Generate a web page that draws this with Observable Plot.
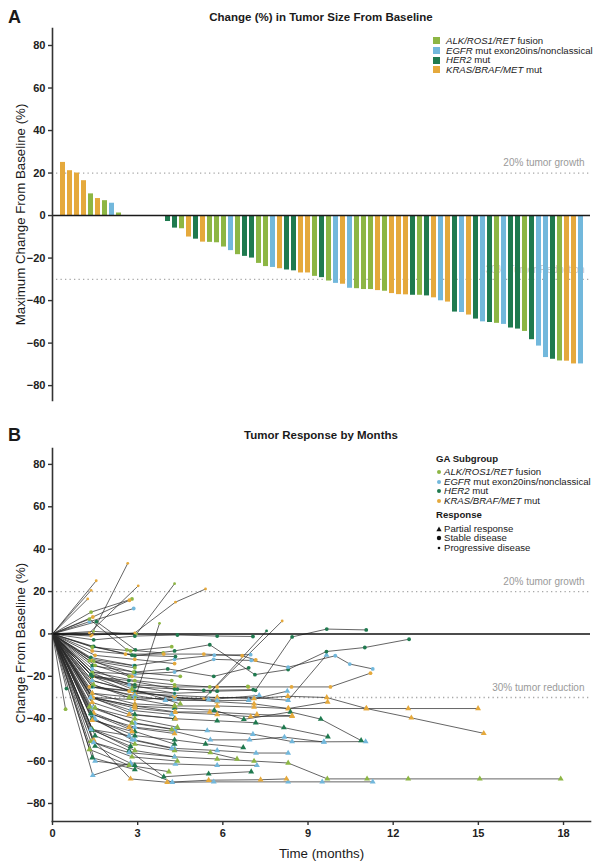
<!DOCTYPE html>
<html><head><meta charset="utf-8">
<script src="https://cdn.jsdelivr.net/npm/d3@7"></script>
<script src="https://cdn.jsdelivr.net/npm/@observablehq/plot@0.6"></script>
<style>
body{margin:0;background:#fff;font-family:"Liberation Sans",Arial,sans-serif;}
#wrap{position:relative;width:600px;height:867px;overflow:hidden;background:#fff}
.abs{position:absolute;white-space:nowrap;color:#1a1a1a;line-height:12px}
.plot{position:absolute;left:0}
</style></head><body><div id="wrap"></div>
<script>
// ---------- data ----------
const groupKeys = ["ALK", "EGFR", "HER2", "KRAS"];
const groupColors = ["#8db644", "#72b8dc", "#1f7a4f", "#e5a93c"];
const groupLabelItalic = ["ALK/ROS1/RET", "EGFR", "HER2", "KRAS/BRAF/MET"];
const groupLabelRest = [" fusion", " mut exon20ins/nonclassical", " mut", " mut"];
const responseLabels = ["Partial response", "Stable disease", "Progressive disease"];

const barGroups = ["KRAS","KRAS","KRAS","KRAS","ALK","KRAS","ALK","EGFR","ALK","HER2",
  "KRAS","ALK","EGFR","KRAS","KRAS","HER2","HER2","ALK","KRAS","HER2",
  "KRAS","ALK","ALK","ALK","EGFR","ALK","HER2","HER2","ALK","ALK",
  "EGFR","KRAS","HER2","HER2","KRAS","KRAS","ALK","HER2","ALK","EGFR",
  "KRAS","EGFR","ALK","ALK","ALK","KRAS","ALK","KRAS","KRAS","KRAS",
  "HER2","ALK","HER2","KRAS","EGFR","KRAS","HER2","EGFR","KRAS","HER2",
  "EGFR","HER2","ALK","EGFR","HER2","HER2","ALK","HER2","EGFR","EGFR",
  "HER2","ALK","KRAS","KRAS","EGFR"];
const barValues = [25.0, 21.1, 20.0, 16.4, 10.2, 8.0, 7.0, 5.8, 1.2, 0,
  0, 0, 0, 0, -0.4, -2.8, -5.9, -6.2, -10.1, -11.1,
  -12.5, -12.6, -12.8, -14.8, -16.5, -18.4, -19.2, -20.0, -22.5, -24.0,
  -24.4, -25.0, -25.6, -26.0, -27.0, -27.0, -28.6, -29.2, -30.8, -31.9,
  -32.3, -34.2, -34.4, -34.8, -34.8, -35.3, -35.6, -36.7, -37.2, -37.3,
  -37.5, -37.5, -37.8, -38.7, -40.1, -40.7, -45.4, -45.6, -46.8, -48.7,
  -50.0, -50.3, -50.7, -51.2, -52.9, -53.4, -54.5, -58.4, -61.4, -66.8,
  -67.6, -68.4, -68.5, -69.8, -69.8];

const yTicks = [-80, -60, -40, -20, 0, 20, 40, 60, 80];
const xTicks = [0, 3, 6, 9, 12, 15, 18];
const refValues = [20, -30];

// Panel B: one entry per patient
const trajGroup = ["KRAS","KRAS","KRAS","KRAS","KRAS","ALK","KRAS","ALK","KRAS","EGFR",
  "HER2","ALK","ALK","KRAS","HER2","HER2","HER2","HER2","EGFR","EGFR",
  "KRAS","KRAS","KRAS","KRAS","HER2","EGFR","HER2","EGFR","ALK","EGFR",
  "KRAS","EGFR","HER2","EGFR","KRAS","KRAS","EGFR","HER2","ALK","HER2",
  "EGFR","EGFR","KRAS","HER2","ALK","HER2","ALK","KRAS","HER2","KRAS",
  "ALK","ALK","ALK","EGFR","ALK","HER2","ALK","EGFR","KRAS","ALK",
  "ALK","KRAS","HER2","EGFR","HER2","ALK","HER2","EGFR","HER2","ALK",
  "KRAS","ALK","HER2","KRAS","EGFR"];
const trajResponse = ["PD","PD","PD","PD","PD","PD","PD","SD","SD","SD",
  "SD","SD","PD","PD","PD","SD","SD","SD","PR","SD",
  "SD","PR","PR","PR","PR","PR","PR","PR","PR","PR",
  "PR","PR","PR","PR","PR","SD","SD","SD","SD","SD",
  "PR","PR","PR","PR","PR","SD","SD","SD","SD","SD",
  "SD","SD","SD","SD","PR","SD","PR","PR","PR","PR",
  "PR","PR","PR","PR","PR","PR","PR","PR","PR","PR",
  "PR","SD","SD","SD","PR"];
const trajMonths = [
  [0,1.54],[0,1.36],[0,1.24],[0,1.35,2.65],[0,1.3,3.02],
  [0,1.45,2.96,4.3],[0,1.4,2.9,4.33,5.39],[0,1.36,2.8],[0,1.42,2.71],[0,1.3,2.86],
  [0,1.55,2.92],[0,1.3,2.62,3.9],[0,1.4,2.92,3.77],[0,1.45,2.9,4.3,5.33,8.09],[0,1.4,2.9,4.3,5.56,7.54],
  [0,1.45,2.9,4.4,5.8,7.06],[0,1.4,2.9,4.4,5.8,7.15,8.44,9.66,11.05],[0,1.4,2.9,4.3,5.54,7.13,8.3,9.65,11.0,12.56],
  [0,1.4,2.9,4.3,5.8,7.1,8.3,9.65],[0,1.4,2.9,4.3,5.68,7.0,8.3,9.96,10.47,11.28],
  [0,1.4,2.9,4.3,5.8,6.9,8.42,9.79,11.2],[0,1.4,2.8,4.3,5.8,7.1,8.3,11.05,12.53,14.99],
  [0,1.4,2.9,4.3,5.8,7.1,8.29,9.66,11.06,12.64,15.19],[0,1.4,2.9,4.3,5.8,7.1,8.31,9.69],
  [0,1.4,2.9,4.3,5.7,6.74,8.38,9.45,10.87],[0,1.4,2.9,4.3,5.45,7.06,8.44,9.56,11.03],
  [0,1.4,2.9,4.3,5.8,7.16,8.15,9.7],[0,1.4,2.9,4.3,5.8,7.17,8.3],
  [0,1.4,2.9,4.3,5.8,7.1,8.3,9.68,11.08,12.53,15.05,17.9],[0,1.5,2.75,4.22,5.68,8.3,9.5,11.28],
  [0,1.45,2.75,4.04,5.5,7.33,8.24],[0,1.42,2.75,4.33,5.8,7.2],[0,1.5,2.7,3.92,5.5,7.0],
  [0,1.4,2.9,4.3,5.56,6.94,8.17,9.56],[0,1.4,2.9,4.3,5.8,6.98,8.44],[0,1.4,2.57,3.92,5.33,6.68,7.16],
  [0,1.4,2.86,4.3,5.7,6.98],[0,1.4,2.9,4.06,5.68,6.91],[0,1.4,2.9,4.3,5.54,6.88],[0,1.4,2.69,4.3,5.33,7.07],
  [0,1.4,2.75,4.3,5.5,7.28],[0,1.4,2.9,3.98,5.8,6.91,8.27],[0,1.4,2.9,4.33,5.54,7.2,8.44],
  [0,1.4,2.9,4.3,5.39,6.72],[0,1.4,2.9,4.3,5.56,6.5],[0,1.45,2.8,4.33],[0,1.4,2.75,4.2],
  [0,1.5,2.9,4.3],[0,1.35,2.9],[0,1.4,2.8],[0,1.3,2.85,4.5],[0,1.45,2.9],[0,1.5,2.7,4.2],
  [0,1.4,2.7,4.3],[0,1.4,2.8,4.5],[0,1.35,2.9],[0,1.45,2.7,4.3],[0,1.35,2.75,4.2],
  [0,1.4,2.7,4.33],[0,1.3,2.9,4.4],[0,1.5,2.8,4.2],[0,1.45,2.7,4.3],[0,1.35,2.9,4.3],
  [0,1.5,2.8,4.2],[0,1.4,2.75],[0,1.35,2.8,4.4],[0,1.5,2.9],[0,1.45,2.7,4.3],[0,1.4,2.9],
  [0,1.3,2.7,4.1],[0,1.4,2.8],[0,0.46],[0,0.49],[0,1.3,2.7],[0,1.35,2.7]];
const trajChange = [
  [0,25.1],[0,20.6],[0,16.5],[0,-1,33.3],[0,0.5,22.7],
  [0,1.2,0,23.7],[0,-0.5,0.5,15,21.2],[0,10.3,16.5],[0,8,15.9],[0,5.8,12],
  [0,5.8,-7.5],[0,7,-7.5,-9],[0,-24,-29.8,5],[0,-30,-31,-30,-30.5,6.1],[0,-25,-27,-28,-27.4,1.4],
  [0,-2.8,-1,-0.5,-1,-1.2],[0,-20,-25,-26,-27,-26.6,-1.4,2.3,1.9],[0,-6,-10.3,-8,-5.1,-19.2,-16.8,-8.3,-6.4,-2.5],
  [0,-28,-30,-31,-30,-30,-31.3,-10],[0,-18,-19,-18,-12,-12.5,-15.7,-10.3,-14.2,-16.5],
  [0,-20,-24,-25,-25,-25,-25,-25,-18.5],[0,-22,-27,-30,-32,-33,-35.2,-35.2,-35.2,-35.2],
  [0,-20,-28,-29,-30,-30.5,-29.4,-30,-35.2,-39.6,-46.9],[0,-28,-33,-34,-34,-34.5,-35.2,-32.1],
  [0,-30,-34,-35,-36,-40.3,-36.8,-40.2,-50.3],[0,-35,-42,-45,-45.6,-47.3,-50.8,-50.9,-50.8],
  [0,-30,-38,-40,-41,-41.9,-44.2,-48.5],[0,-40,-50,-54,-55,-56.2,-56.2],
  [0,-45,-55,-58,-59,-60,-60.9,-68.4,-68.4,-68.4,-68.4,-68.4],[0,-60,-62,-70,-69.8,-69.8,-69.8,-69.8],
  [0,-50,-68.4,-70,-69,-68.8,-68.4],[0,-66.7,-60.9,-61.4,-62,-62],[0,-48,-55,-67.4,-66,-65],
  [0,-38,-44,-46,-50,-50,-48.7,-51],[0,-30,-35,-37,-38,-39,-38.8],[0,-8,-9.5,-9.5,-9.5,-10.3,-12.3],
  [0,-12,-15,-12,-10,-9.8],[0,-15,-18,-16.5,-20,-16],[0,-18,-22,-24,-25,-24.8],[0,-20,-22,-26,-26.6,-26.3],
  [0,-22,-26.6,-30,-31,-29],[0,-25,-29,-31.3,-31.5,-31.3,-27],[0,-30,-34,-36.8,-36.8,-38,-38.6],
  [0,-40,-48,-50,-51.9,-53.6],[0,-45,-52,-55,-56,-59],[0,-5.9,-10,-10.7],[0,-6.2,-8,-6],
  [0,-10.1,-12,-14],[0,-11.1,-15],[0,-12.5,-20],[0,-12.6,-18,-20],[0,-12.8,-16],[0,-14.8,-20,-22],
  [0,-16.5,-24,-28],[0,-18.4,-26,-33],[0,-19.2,-24],[0,-24,-30,-34],[0,-30,-36,-38],
  [0,-32.3,-38,-40],[0,-34.4,-40,-44],[0,-34.8,-42,-45],[0,-37.3,-44,-47],[0,-37.5,-46,-52],
  [0,-40.1,-50,-54],[0,-45.4,-53],[0,-50.7,-58,-60],[0,-52.9,-62],[0,-51.2,-56,-58],[0,-58.4,-64],
  [0,-54.5,-62,-65],[0,-40.7,-46],[0,-35.5],[0,-25.8],[0,-25,-27],[0,-45,-48]];

// ---------- build tables ----------
const bars = barValues.map((v, i) => ({idx: i, value: v, group: barGroups[i]}));
const rows = [];
trajMonths.forEach((ts, id) => ts.forEach((t, k) => rows.push({id, t, v: trajChange[id][k], g: trajGroup[id], r: trajResponse[id]})));
const pts = rows.filter(d => d.t > 0);

const FONT = '"Liberation Sans", Arial, sans-serif';
const color = {domain: groupKeys, range: groupColors};
const dotted = {stroke: "#a8a8a8", strokeDasharray: "1.3,3.2", strokeWidth: 1.3, insetLeft: 4};
const refLabelsA = [{y: 20, text: "20% tumor growth", fill: "#9a9a9a"}, {y: -30, text: "30% Tumor Reduction", fill: "#c4c4c4"}];
const refLabelsB = [{y: 20, text: "20% tumor growth"}, {y: -30, text: "30% tumor reduction"}];

const wrap = document.getElementById("wrap");

const plotA = Plot.plot({
  width: 600, height: 420, marginTop: 28, marginBottom: 20, marginLeft: 52, marginRight: 10,
  style: {fontFamily: FONT, fontSize: "11px", color: "#222", background: "transparent", overflow: "visible"},
  x: {type: "band", domain: d3.range(barValues.length), paddingInner: 0.33, paddingOuter: 0.3, axis: null},
  y: {domain: [-87, 88]},
  color,
  marks: [
    Plot.ruleY(refValues, dotted),
    Plot.text(refLabelsA, {y: "y", text: "text", fill: "fill", frameAnchor: "right", textAnchor: "end", dx: -6, dy: -10, fontSize: 10}),
    Plot.barY(bars, {x: "idx", y: "value", fill: "group"}),
    Plot.ruleY([0], {stroke: "#1a1a1a", strokeWidth: 1.6}),
    Plot.axisY({ticks: yTicks, tickSize: 4, tickPadding: 3, fontWeight: "bold", label: null, stroke: "#333", strokeWidth: 1.4, fill: "#222"}),
    Plot.frame({anchor: "left", stroke: "#333", strokeWidth: 1.6}),
    Plot.text(["Maximum Change From Baseline (%)"], {frameAnchor: "left", textAnchor: "middle", rotate: -90, dx: -32, fontSize: 13.3, fill: "#1a1a1a"})
  ]
});
plotA.classList.add("plot"); plotA.style.top = "0px";
wrap.appendChild(plotA);

const plotB = Plot.plot({
  width: 600, height: 447, marginTop: 28, marginBottom: 46, marginLeft: 52, marginRight: 10,
  style: {fontFamily: FONT, fontSize: "11px", color: "#222", background: "transparent", overflow: "visible"},
  x: {domain: [0, 18.95]},
  y: {domain: [-88.5, 87.5]},
  color,
  marks: [
    Plot.ruleY(refValues, dotted),
    Plot.text(refLabelsB, {y: "y", text: "text", fill: "#9a9a9a", frameAnchor: "right", textAnchor: "end", dx: -6, dy: -10, fontSize: 10}),
    Plot.line(rows, {x: "t", y: "v", z: "id", stroke: "#2a2a2a", strokeOpacity: 0.72, strokeWidth: 1}),
    Plot.ruleY([0], {stroke: "#111", strokeWidth: 1.6}),
    Plot.dot(pts.filter(d => d.r === "PR"), {x: "t", y: "v", fill: "g", symbol: "triangle", r: 2.2}),
    Plot.dot(pts.filter(d => d.r === "SD"), {x: "t", y: "v", fill: "g", symbol: "circle", r: 1.9}),
    Plot.dot(pts.filter(d => d.r === "PD"), {x: "t", y: "v", fill: "g", symbol: "circle", r: 1.4}),
    Plot.axisX({ticks: xTicks, tickSize: 4, tickPadding: 4, fontWeight: "bold", label: null, stroke: "#333", strokeWidth: 1.4, fill: "#222"}),
    Plot.axisY({ticks: yTicks, tickSize: 4, tickPadding: 3, fontWeight: "bold", label: null, stroke: "#333", strokeWidth: 1.4, fill: "#222"}),
    Plot.frame({anchor: "left", stroke: "#333", strokeWidth: 1.6}),
    Plot.frame({anchor: "bottom", stroke: "#333", strokeWidth: 1.6}),
    Plot.text(["Change From Baseline (%)"], {frameAnchor: "left", textAnchor: "middle", rotate: -90, dx: -32, dy: 8, fontSize: 13.3, fill: "#1a1a1a"}),
    Plot.text(["Time (months)"], {frameAnchor: "bottom", dy: 36, fontSize: 13.3, fill: "#1a1a1a"})
  ]
});
plotB.classList.add("plot"); plotB.style.top = "420px";
wrap.appendChild(plotB);

// ---------- titles & legends ----------
function place(html, x, cy, css) {
  const d = document.createElement("div");
  d.className = "abs";
  d.innerHTML = html;
  d.style.left = x + "px";
  d.style.top = (cy - 6) + "px";
  Object.assign(d.style, css || {});
  wrap.appendChild(d);
  return d;
}
function centered(text, cy, css) {
  const d = place(text, 0, cy, css);
  d.style.left = "52px"; d.style.width = "538px"; d.style.textAlign = "center";
}
place("A", 8, 17, {fontSize: "18px", fontWeight: "bold", lineHeight: "12px"});
place("B", 8, 435, {fontSize: "18px", fontWeight: "bold", lineHeight: "12px"});
centered("Change (%) in Tumor Size From Baseline", 17, {fontSize: "11.5px", fontWeight: "bold"});
centered("Tumor Response by Months", 435, {fontSize: "11.5px", fontWeight: "bold"});

const legA = [40.7, 50.5, 60.2, 69.9];
groupKeys.forEach((k, i) => {
  const sq = document.createElement("div");
  sq.style.cssText = `position:absolute;left:433px;top:${legA[i] - 3.5}px;width:7px;height:7px;background:${groupColors[i]}`;
  wrap.appendChild(sq);
  place(`<i>${groupLabelItalic[i]}</i>${groupLabelRest[i]}`, 446, legA[i], {fontSize: "9.6px"});
});

place("GA Subgroup", 436, 459, {fontSize: "9.6px", fontWeight: "bold"});
const legB = [472.3, 481.7, 491.3, 500.7];
groupKeys.forEach((k, i) => {
  const dt = document.createElement("div");
  dt.style.cssText = `position:absolute;left:${439 - 2}px;top:${legB[i] - 2}px;width:4px;height:4px;border-radius:50%;background:${groupColors[i]}`;
  wrap.appendChild(dt);
  place(`<i>${groupLabelItalic[i]}</i>${groupLabelRest[i]}`, 444, legB[i], {fontSize: "9.6px"});
});
place("Response", 436, 515.3, {fontSize: "9.6px", fontWeight: "bold"});
const legR = [528.7, 538, 547.7];
const symSvg = [
  '<svg width="6" height="6" style="position:absolute;left:-3px;top:-3px"><path d="M3,0.5L5.6,5.3L0.4,5.3Z" fill="#111"/></svg>',
  '<svg width="6" height="6" style="position:absolute;left:-3px;top:-3px"><circle cx="3" cy="3" r="2.2" fill="#111"/></svg>',
  '<svg width="6" height="6" style="position:absolute;left:-3px;top:-3px"><circle cx="3" cy="3" r="1.3" fill="#111"/></svg>'];
responseLabels.forEach((lab, i) => {
  const m = document.createElement("div");
  m.style.cssText = `position:absolute;left:439px;top:${legR[i]}px;width:0;height:0`;
  m.innerHTML = symSvg[i];
  wrap.appendChild(m);
  place(lab, 444, legR[i], {fontSize: "9.6px"});
});
</script></body></html>
